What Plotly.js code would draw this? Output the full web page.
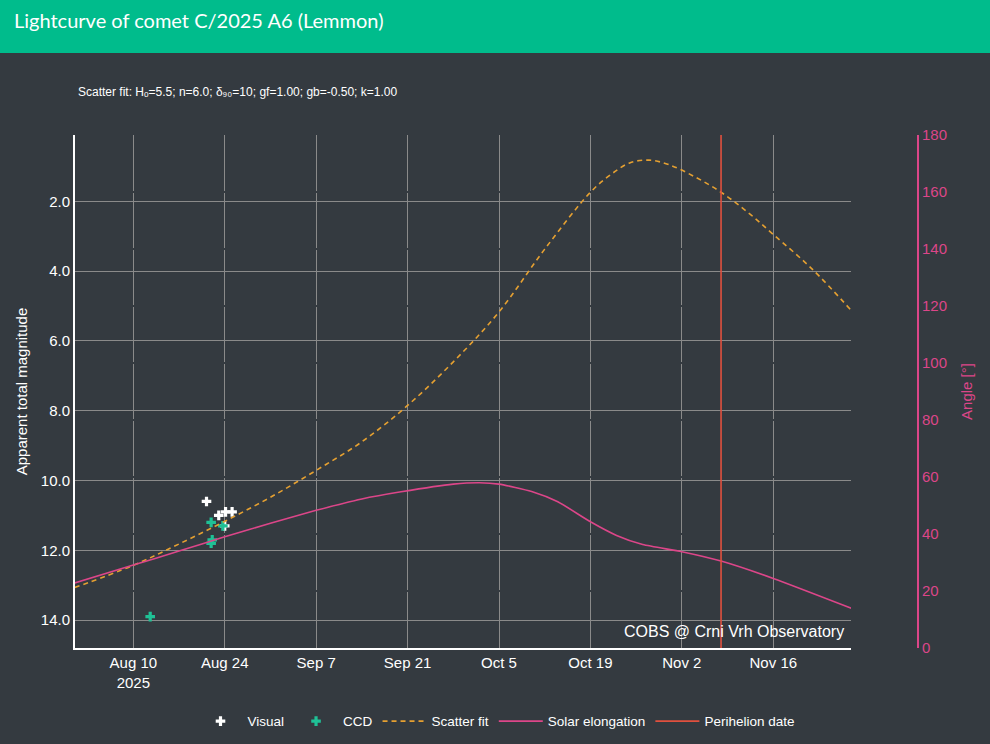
<!DOCTYPE html>
<html>
<head>
<meta charset="utf-8">
<script src="https://cdn.plot.ly/plotly-3.0.1.min.js"></script>
<style>
  html, body { margin: 0; padding: 0; background: #343a40; width: 990px; height: 744px; overflow: hidden; }
  #hdr { background: #00bc8c; height: 53px; box-sizing: border-box; padding: 6px 14px 0 14px;
         color: #ffffff; font-family: Lato, "Open Sans", sans-serif; font-size: 20px; line-height: 28px; }
  #plot { width: 990px; height: 691px; }
</style>
</head>
<body>
<div id="hdr">Lightcurve of comet C/2025 A6 (Lemmon)</div>
<div id="plot"></div>
<script>
// ---- data ----
const visualDates = ['2025-08-24 00:00', '2025-08-21 05:00', '2025-08-23 02:00', '2025-08-24 03:00', '2025-08-25 03:00'];
const visualMags  = [11.3, 10.6, 11.0, 10.9, 10.9];

const ccdDates = ['2025-08-12 14:00', '2025-08-21 22:00', '2025-08-23 17:00', '2025-08-21 22:00', '2025-08-22 02:00'];
const ccdMags  = [13.9, 11.2, 11.3, 11.8, 11.7];

const fitDates = ['2025-08-01', '2025-08-10', '2025-08-17', '2025-08-24', '2025-08-31', '2025-09-07',
                  '2025-09-14', '2025-09-21', '2025-09-28', '2025-10-05', '2025-10-12', '2025-10-19',
                  '2025-10-22', '2025-10-25', '2025-10-28', '2025-10-31', '2025-11-04', '2025-11-08',
                  '2025-11-12', '2025-11-16', '2025-11-22', '2025-11-28'];
const fitMags  = [13.07, 12.43, 11.82, 11.17, 10.48, 9.71,
                  8.89, 7.85, 6.60, 5.17, 3.37, 1.74,
                  1.25, 0.90, 0.82, 0.95, 1.30, 1.74,
                  2.30, 2.95, 3.95, 5.14];

const elongDates = ['2025-08-01', '2025-08-10', '2025-08-17', '2025-08-24', '2025-08-31', '2025-09-07',
                    '2025-09-14', '2025-09-20', '2025-09-28', '2025-10-02', '2025-10-05', '2025-10-10',
                    '2025-10-14', '2025-10-19', '2025-10-23', '2025-10-27', '2025-11-02', '2025-11-08',
                    '2025-11-16', '2025-11-28'];
const elongAngles = [22.8, 29.1, 34.0, 39.0, 43.8, 48.3,
                     52.3, 54.8, 57.5, 58.0, 57.5, 54.9,
                     51.3, 44.3, 39.5, 36.3, 33.8, 30.5,
                     24.4, 13.9];

const perihelionDate = '2025-11-08';
const angleSpan = [0, 180];

const xRange = ['2025-08-01 01:40', '2025-11-27 21:30'];
const magRange = [14.8, 0.1];

// ---- styles ----
const BG = '#343a40';
const GRID = '#8a8a8a';
const PINK = '#dc4689';
const FONT = 'Arial, "Liberation Sans", sans-serif';

const traces = [
  { x: visualDates, y: visualMags, name: 'Visual', type: 'scatter', mode: 'markers',
    marker: { symbol: 'cross', size: 8, color: '#ffffff' }, xaxis: 'x', yaxis: 'y', legendrank: 1 },
  { x: ccdDates, y: ccdMags, name: 'CCD', type: 'scatter', mode: 'markers',
    marker: { symbol: 'cross', size: 8, color: '#1fc196' }, xaxis: 'x', yaxis: 'y', legendrank: 2 },
  { x: fitDates, y: fitMags, name: 'Scatter fit', type: 'scatter', mode: 'lines',
    line: { color: '#e5a031', width: 1.6, dash: '5px,4px', shape: 'spline' }, xaxis: 'x', yaxis: 'y', legendrank: 3 },
  { x: elongDates, y: elongAngles, name: 'Solar elongation', type: 'scatter', mode: 'lines',
    line: { color: PINK, width: 1.6, shape: 'spline', smoothing: 0.6 }, xaxis: 'x', yaxis: 'y2', legendrank: 4 },
  { x: [perihelionDate, perihelionDate], y: angleSpan, name: 'Perihelion date', type: 'scatter', mode: 'lines',
    line: { color: '#e0503e', width: 1.6 }, xaxis: 'x', yaxis: 'y2', legendrank: 5 }
];

const layout = {
  width: 990, height: 691,
  paper_bgcolor: BG, plot_bgcolor: BG,
  font: { family: FONT, color: '#ffffff', size: 15 },
  margin: { l: 75, r: 72, t: 82, b: 96, autoexpand: false },
  title: {
    text: 'Scatter fit: Hₒ=5.5; n=6.0; δ₉₀=10; gf=1.00; gb=-0.50; k=1.00',
    font: { size: 12, color: '#ffffff', family: FONT },
    xref: 'container', x: 78 / 990, xanchor: 'left',
    yref: 'container', y: 1 - 39 / 691, yanchor: 'middle'
  },
  showlegend: true,
  legend: {
    orientation: 'h', x: 0.5, xanchor: 'center', y: -0.143, yanchor: 'middle',
    itemwidth: 44,
    font: { size: 13.5, color: '#ffffff', family: FONT }, bgcolor: 'rgba(0,0,0,0)'
  },
  xaxis: {
    type: 'date', domain: [0, 0.9205], range: xRange,
    tick0: '2025-08-10', dtick: 14 * 86400000,
    showgrid: true, gridcolor: GRID, gridwidth: 1,
    showline: true, linecolor: '#ffffff', linewidth: 2,
    zeroline: false, ticks: '', tickfont: { size: 15, color: '#ffffff' }
  },
  yaxis: {
    range: magRange, dtick: 2, tick0: 0, tickformat: '.1f',
    showgrid: true, gridcolor: GRID, gridwidth: 1,
    showline: true, linecolor: '#ffffff', linewidth: 2,
    zeroline: false, ticks: '', tickfont: { size: 15, color: '#ffffff' },
    title: { text: 'Apparent total magnitude', font: { size: 15, color: '#ffffff' }, standoff: 10 }
  },
  yaxis2: {
    overlaying: 'y', side: 'right', anchor: 'free', position: 1,
    range: [0, 180], dtick: 20,
    showgrid: true, gridcolor: BG, gridwidth: 1.5,
    showline: true, linecolor: PINK, linewidth: 2,
    zeroline: false, ticks: '', tickfont: { size: 15, color: PINK },
    title: { text: 'Angle [°]', font: { size: 15, color: PINK }, standoff: 14 }
  },
  annotations: [{
    text: 'COBS @ Crni Vrh Observatory', xref: 'paper', yref: 'paper',
    x: 0.9146, xanchor: 'right', y: 0.033, yanchor: 'middle', showarrow: false,
    font: { size: 16, color: '#ffffff', family: FONT }
  }]
};

Plotly.newPlot('plot', traces, layout, { displayModeBar: false, staticPlot: true });
</script>
</body>
</html>
